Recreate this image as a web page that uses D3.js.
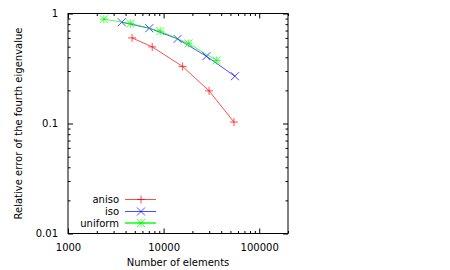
<!DOCTYPE html>
<html>
<head>
<meta charset="utf-8">
<script src="https://cdn.jsdelivr.net/npm/d3@7"></script>
<style>
  body { margin: 0; background: #fff; }
  svg text { font-family: "DejaVu Sans", sans-serif; font-size: 10px; fill: #000; }
</style>
</head>
<body>
<svg id="chart" width="450" height="270"></svg>
<script>
// --- data ---
const seriesNames = ["aniso", "iso", "uniform"];
const seriesColors = ["#ff0000", "#0000ff", "#00ff00"];
const seriesMarks = ["plus", "cross", "star"];

const anisoN   = [4680, 7600, 15800, 29900, 54400];
const anisoErr = [0.600, 0.497, 0.330, 0.198, 0.103];

const isoN   = [3650, 7080, 14000, 28000, 55700];
const isoErr = [0.833, 0.735, 0.588, 0.409, 0.269];

const uniformN   = [2370, 4490, 9220, 18200, 35900];
const uniformErr = [0.888, 0.811, 0.690, 0.534, 0.374];

const xTickLabels = [1000, 10000, 100000];
const yTickLabels = [0.01, 0.1, 1];

const series = [
  { n: anisoN, err: anisoErr },
  { n: isoN, err: isoErr },
  { n: uniformN, err: uniformErr }
];

// --- layout ---
const plot = { left: 68, right: 288, top: 13.5, bottom: 233.5 };
const MAJOR = 5, MINOR = 2.5;
const SERIES_OPACITY = 0.7;

const svg = d3.select("#chart");

const x = d3.scaleLog().domain([1000, 200000]).range([plot.left, plot.right]);
const y = d3.scaleLog().domain([0.01, 1]).range([plot.bottom, plot.top]);

// minor tick positions (2..9 per decade)
function minorTicks(lo, hi) {
  const out = [];
  for (let d = lo; d < hi; d *= 10)
    for (let k = 2; k <= 9; k++) if (d * k <= hi) out.push(d * k);
  return out;
}
const xMinor = minorTicks(1000, 200000);
const yMinor = minorTicks(0.01, 1);

function styleAxis(g) {
  g.select(".domain").remove();
  g.selectAll(".tick line").attr("stroke", "#000").attr("stroke-width", 1);
  g.selectAll(".tick text").attr("font-family", null).attr("font-size", null);
}

// ---- ticks: bottom / top ----
svg.append("g").attr("transform", `translate(0,${plot.bottom})`)
  .call(d3.axisBottom(x).tickValues(xTickLabels).tickSize(-MAJOR).tickPadding(10)
    .tickFormat(d3.format("d")))
  .call(styleAxis);
svg.append("g").attr("transform", `translate(0,${plot.bottom})`)
  .call(d3.axisBottom(x).tickValues(xMinor).tickSize(-MINOR).tickFormat(""))
  .call(styleAxis);
svg.append("g").attr("transform", `translate(0,${plot.top})`)
  .call(d3.axisTop(x).tickValues(xTickLabels).tickSize(-MAJOR).tickFormat(""))
  .call(styleAxis);
svg.append("g").attr("transform", `translate(0,${plot.top})`)
  .call(d3.axisTop(x).tickValues(xMinor).tickSize(-MINOR).tickFormat(""))
  .call(styleAxis);

// ---- ticks: left / right ----
svg.append("g").attr("transform", `translate(${plot.left},0)`)
  .call(d3.axisLeft(y).tickValues(yTickLabels).tickSize(-MAJOR).tickPadding(10)
    .tickFormat(d => String(d)))
  .call(styleAxis);
svg.append("g").attr("transform", `translate(${plot.left},0)`)
  .call(d3.axisLeft(y).tickValues(yMinor).tickSize(-MINOR).tickFormat(""))
  .call(styleAxis);
svg.append("g").attr("transform", `translate(${plot.right},0)`)
  .call(d3.axisRight(y).tickValues(yTickLabels).tickSize(-MAJOR).tickFormat(""))
  .call(styleAxis);
svg.append("g").attr("transform", `translate(${plot.right},0)`)
  .call(d3.axisRight(y).tickValues(yMinor).tickSize(-MINOR).tickFormat(""))
  .call(styleAxis);

// frame
svg.append("rect")
  .attr("x", plot.left).attr("y", plot.top)
  .attr("width", plot.right - plot.left).attr("height", plot.bottom - plot.top)
  .attr("fill", "none").attr("stroke", "#000").attr("stroke-width", 1);

// ---- marker shapes ----
function markerPath(type, cx, cy, s) {
  const p = d3.path();
  if (type === "plus" || type === "star") {
    p.moveTo(cx - s, cy); p.lineTo(cx + s, cy);
    p.moveTo(cx, cy - s); p.lineTo(cx, cy + s);
  }
  if (type === "cross" || type === "star") {
    p.moveTo(cx - s, cy - s); p.lineTo(cx + s, cy + s);
    p.moveTo(cx - s, cy + s); p.lineTo(cx + s, cy - s);
  }
  return p.toString();
}

// ---- series ----
const line = d3.line().x(d => x(d[0])).y(d => y(d[1]));

series.forEach((s, i) => {
  const pts = s.n.map((n, j) => [n, s.err[j]]);
  const g = svg.append("g").attr("stroke-opacity", SERIES_OPACITY);
  g.append("path")
    .attr("d", line(pts))
    .attr("fill", "none")
    .attr("stroke", seriesColors[i])
    .attr("stroke-width", 1);
  g.selectAll("path.mark").data(pts).join("path")
    .attr("class", "mark")
    .attr("d", d => markerPath(seriesMarks[i], x(d[0]), y(d[1]), 4))
    .attr("fill", "none")
    .attr("stroke", seriesColors[i])
    .attr("stroke-width", 1);
});

// ---- legend ----
const legend = svg.append("g");
const legendRows = [199.5, 211.5, 223];
seriesNames.forEach((name, i) => {
  const ly = legendRows[i];
  legend.append("text")
    .attr("x", 119).attr("y", ly).attr("dy", "0.35em")
    .attr("text-anchor", "end")
    .text(name);
  const sg = legend.append("g").attr("stroke-opacity", SERIES_OPACITY);
  sg.append("line")
    .attr("x1", 125).attr("x2", 156).attr("y1", ly).attr("y2", ly)
    .attr("stroke", seriesColors[i]).attr("stroke-width", i === 2 ? 2 : 1);
  sg.append("path")
    .attr("d", markerPath(seriesMarks[i], 141, ly, 4))
    .attr("fill", "none").attr("stroke", seriesColors[i]).attr("stroke-width", 1);
});

// ---- axis titles ----
svg.append("text")
  .attr("x", (plot.left + plot.right) / 2).attr("y", 266)
  .attr("text-anchor", "middle")
  .text("Number of elements");

svg.append("text")
  .attr("transform", `translate(18,${(plot.top + plot.bottom) / 2}) rotate(-90)`)
  .attr("text-anchor", "middle").attr("dy", "0.35em")
  .text("Relative error of the fourth eigenvalue");
</script>
</body>
</html>
